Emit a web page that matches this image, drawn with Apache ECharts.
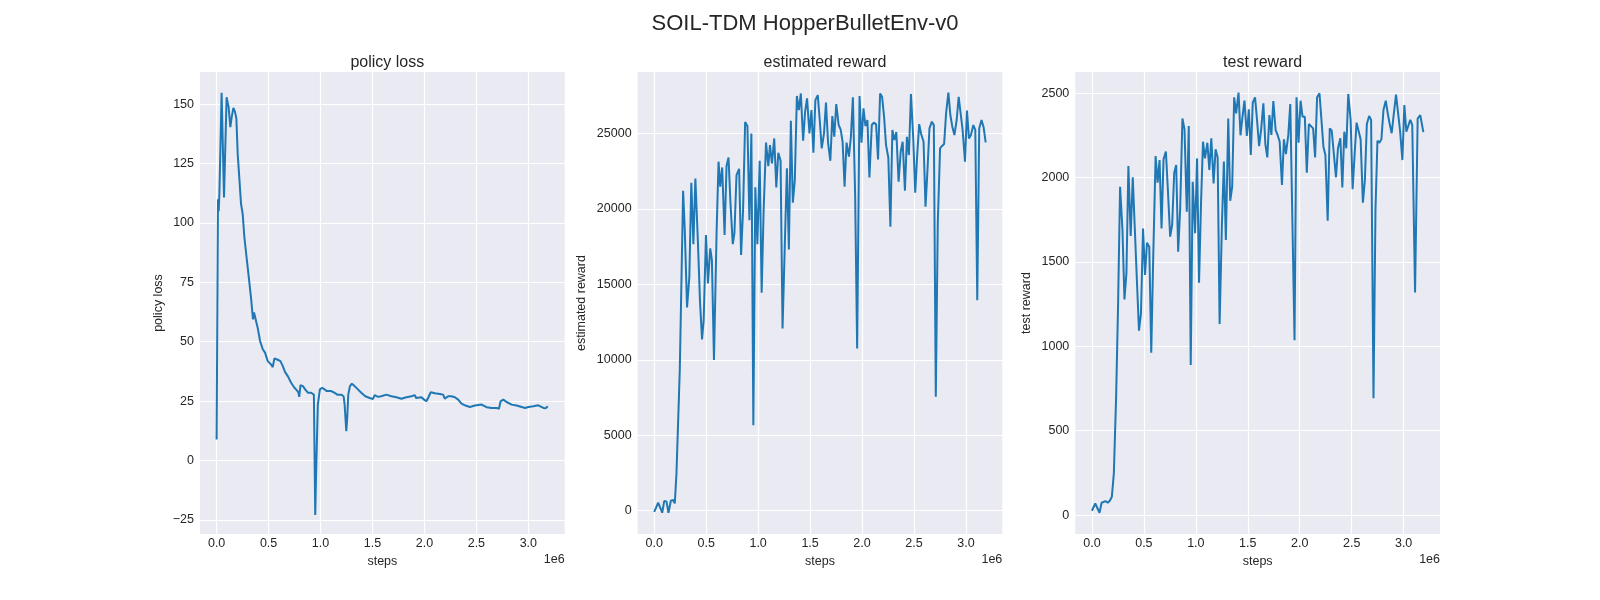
<!DOCTYPE html>
<html>
	<head>
		<meta charset="utf-8">
		<title>SOIL-TDM HopperBulletEnv-v0</title>
		<script src="https://cdn.jsdelivr.net/npm/echarts@6.0.0/dist/echarts.min.js"></script>
		<style>
			html, body { margin: 0; padding: 0; background: #fff; }
		</style>
	</head>
	<body>
		<div id="main" style="width:1600px;height:600px;"></div>

		<script>
			// steps are in millions (axis shows the 1e6 offset)
			var policyLoss = [
				[0.0, 8.8], [0.008, 8.8], [0.013, 110], [0.02, 105], [0.027, 113], [0.048, 154.8],
				[0.071, 110.8], [0.096, 153], [0.115, 148.9], [0.132, 140.4], [0.145, 144.6],
				[0.161, 148.5], [0.177, 146.8], [0.19, 144], [0.203, 129], [0.235, 108],
				[0.251, 103.8], [0.267, 94], [0.299, 81.3], [0.331, 68.6], [0.35, 59.4],
				[0.36, 62.3], [0.373, 62.3], [0.395, 55.9], [0.418, 50.3], [0.444, 46.8],
				[0.466, 45.4], [0.492, 41.8], [0.524, 40.4], [0.54, 39.3], [0.556, 43],
				[0.588, 42.4], [0.614, 41.8], [0.637, 39.7], [0.659, 37.2], [0.685, 35.5],
				[0.717, 32.7], [0.749, 30.6], [0.775, 29.4], [0.788, 28.5], [0.795, 26.8],
				[0.807, 31.7], [0.83, 31.3], [0.852, 29.9], [0.878, 28.5], [0.91, 28.5],
				[0.936, 27.7], [0.949, -23], [0.958, -4.6], [0.974, 23.5], [0.994, 29.9],
				[1.016, 30.6], [1.039, 29.9], [1.061, 29.2], [1.08, 29.6], [1.103, 29.2],
				[1.135, 28.5], [1.161, 27.7], [1.199, 27.7], [1.222, 27], [1.232, 23.5],
				[1.248, 12.3], [1.257, 17.9], [1.267, 27.7], [1.283, 31.3], [1.302, 32.3],
				[1.328, 31.3], [1.36, 29.9], [1.392, 28.5], [1.431, 27], [1.473, 26.3],
				[1.505, 25.9], [1.521, 27.5], [1.553, 26.8], [1.585, 27], [1.633, 27.7],
				[1.682, 27], [1.73, 26.6], [1.778, 26], [1.826, 26.6], [1.875, 27],
				[1.907, 27.5], [1.92, 26.3], [1.939, 27], [1.971, 26.6], [1.997, 25.6],
				[2.019, 24.9], [2.035, 26.3], [2.061, 28.7], [2.1, 28.3], [2.148, 28],
				[2.18, 27.7], [2.196, 26], [2.228, 27], [2.26, 27], [2.293, 26.6],
				[2.325, 25.6], [2.357, 23.9], [2.395, 23.1], [2.437, 22.5], [2.486, 23.1],
				[2.55, 23.5], [2.598, 22.4], [2.646, 22.1], [2.695, 22.1], [2.717, 21.7],
				[2.733, 24.9], [2.759, 25.6], [2.791, 24.6], [2.839, 23.5], [2.887, 23.1],
				[2.936, 22.5], [2.968, 22.1], [3.0, 22.5], [3.048, 22.8], [3.096, 23.2],
				[3.145, 22.1], [3.167, 22], [3.187, 22.8]
			];

			var estimatedReward = [
				[0.0, -70], [0.013, 0], [0.038, 530], [0.057, 640], [0.077, -130], [0.096, 640],
				[0.118, 620], [0.137, -130], [0.16, 660], [0.182, 710], [0.198, 490], [0.214, 2470],
				[0.246, 9320], [0.278, 21200], [0.294, 18590], [0.316, 13470], [0.338, 15500],
				[0.357, 21730], [0.377, 17660], [0.396, 22010], [0.421, 17710], [0.44, 13950],
				[0.46, 11350], [0.476, 12630], [0.498, 18260], [0.517, 15060], [0.539, 17380],
				[0.555, 16600], [0.575, 9980], [0.6, 18370], [0.619, 23120], [0.635, 21460],
				[0.654, 22740], [0.677, 18260], [0.696, 22830], [0.715, 23400], [0.734, 20360],
				[0.756, 17660], [0.772, 18410], [0.792, 22230], [0.817, 22650], [0.836, 16940],
				[0.855, 19920], [0.875, 25750], [0.897, 25480], [0.916, 19250], [0.935, 24990],
				[0.954, 5670], [0.973, 21420], [0.993, 17660], [1.015, 23180], [1.034, 14440],
				[1.053, 19920], [1.076, 24380], [1.098, 22830], [1.114, 24220], [1.133, 23010],
				[1.155, 24660], [1.175, 21420], [1.194, 23710], [1.216, 23180], [1.235, 12080],
				[1.258, 17930], [1.277, 22680], [1.296, 17310], [1.315, 25830], [1.334, 20400],
				[1.353, 21900], [1.373, 27470], [1.392, 26540], [1.411, 27640], [1.433, 24510],
				[1.452, 26430], [1.471, 27310], [1.494, 24990], [1.513, 26540], [1.532, 23710],
				[1.551, 27200], [1.574, 27530], [1.593, 25880], [1.612, 24000], [1.634, 24990],
				[1.653, 27030], [1.673, 24380], [1.695, 23180], [1.714, 26140], [1.733, 24770],
				[1.752, 26940], [1.775, 25550], [1.794, 25260], [1.813, 24440], [1.832, 21460],
				[1.851, 24380], [1.874, 23450], [1.893, 24770], [1.912, 27380], [1.934, 20800],
				[1.953, 10750], [1.976, 27470], [1.995, 24380], [2.014, 26650], [2.033, 25480],
				[2.052, 25880], [2.071, 22080], [2.094, 25550], [2.113, 25700], [2.135, 25610],
				[2.154, 23270], [2.174, 27640], [2.193, 27420], [2.212, 26100], [2.231, 24220],
				[2.253, 23400], [2.273, 18810], [2.292, 25220], [2.311, 24550], [2.33, 25080],
				[2.352, 21790], [2.372, 23780], [2.391, 24440], [2.413, 21200], [2.432, 24770],
				[2.451, 23560], [2.471, 27600], [2.493, 24660], [2.512, 21060], [2.531, 23560],
				[2.55, 25610], [2.569, 24950], [2.592, 24440], [2.611, 20140], [2.63, 22570],
				[2.649, 25330], [2.672, 25770], [2.691, 25550], [2.71, 7550], [2.729, 19030],
				[2.751, 24000], [2.77, 24160], [2.79, 24290], [2.809, 26320], [2.831, 27690],
				[2.85, 26210], [2.869, 25440], [2.889, 24880], [2.911, 25880], [2.93, 27420],
				[2.949, 27310], [2.968, 25220], [2.991, 23120], [3.01, 26500], [3.029, 24660],
				[3.048, 24880], [3.071, 25550], [3.09, 25220], [3.109, 13950], [3.128, 25330],
				[3.15, 25880], [3.17, 25400], [3.19, 24400]
			];

			var testReward = [
				[0.0, 26], [0.013, 26], [0.032, 69], [0.051, 75], [0.073, 14], [0.093, 73],
				[0.112, 75], [0.131, 83], [0.153, 73], [0.172, 85], [0.192, 109], [0.211, 247],
				[0.233, 702], [0.252, 1255], [0.271, 1946], [0.294, 1690], [0.313, 1278],
				[0.332, 1433], [0.351, 2069], [0.373, 1654], [0.393, 2002], [0.412, 1709],
				[0.434, 1373], [0.453, 1093], [0.472, 1196], [0.492, 1699], [0.511, 1423],
				[0.53, 1614], [0.552, 1591], [0.571, 962], [0.59, 1531], [0.613, 2128],
				[0.632, 1970], [0.651, 2104], [0.67, 1699], [0.689, 2108], [0.712, 2154],
				[0.731, 1927], [0.753, 1650], [0.772, 1719], [0.792, 2029], [0.811, 2075],
				[0.83, 1561], [0.849, 1808], [0.871, 2351], [0.891, 2286], [0.913, 1798],
				[0.932, 2306], [0.951, 889], [0.97, 1976], [0.993, 1670], [1.012, 2114],
				[1.031, 1377], [1.05, 1848], [1.069, 2213], [1.088, 2114], [1.111, 2207],
				[1.13, 2045], [1.149, 2233], [1.171, 1966], [1.19, 2168], [1.21, 2120],
				[1.229, 1132], [1.251, 1719], [1.27, 2095], [1.289, 1630], [1.312, 2351],
				[1.331, 1863], [1.35, 1946], [1.369, 2476], [1.388, 2381], [1.411, 2504],
				[1.43, 2251], [1.449, 2361], [1.468, 2456], [1.491, 2247], [1.51, 2405],
				[1.529, 2134], [1.548, 2444], [1.57, 2476], [1.589, 2342], [1.609, 2187],
				[1.628, 2282], [1.65, 2440], [1.669, 2199], [1.688, 2120], [1.708, 2371],
				[1.727, 2253], [1.746, 2454], [1.768, 2282], [1.787, 2253], [1.807, 2213],
				[1.829, 1956], [1.848, 2227], [1.867, 2140], [1.89, 2253], [1.909, 2436],
				[1.928, 1792], [1.95, 1037], [1.969, 2476], [1.989, 2207], [2.008, 2456],
				[2.027, 2361], [2.049, 2361], [2.068, 2029], [2.088, 2318], [2.107, 2312],
				[2.129, 2292], [2.148, 2120], [2.167, 2476], [2.19, 2500], [2.209, 2342],
				[2.228, 2183], [2.247, 2134], [2.269, 1745], [2.289, 2292], [2.308, 2278],
				[2.327, 2282], [2.349, 2002], [2.368, 2174], [2.391, 2233], [2.41, 1942],
				[2.429, 2272], [2.448, 2174], [2.467, 2496], [2.49, 2342], [2.509, 1931],
				[2.528, 2134], [2.547, 2326], [2.566, 2278], [2.586, 2227], [2.608, 1852],
				[2.627, 1986], [2.646, 2318], [2.668, 2365], [2.687, 2342], [2.71, 692],
				[2.729, 1808], [2.748, 2219], [2.767, 2207], [2.786, 2227], [2.806, 2401],
				[2.828, 2456], [2.847, 2381], [2.866, 2318], [2.885, 2263], [2.904, 2371],
				[2.927, 2492], [2.94, 2500], [2.965, 2282], [2.988, 2104], [3.007, 2430],
				[3.026, 2272], [3.045, 2272], [3.064, 2342], [3.083, 2312], [3.11, 1320],
				[3.135, 2350], [3.16, 2370], [3.19, 2270]
			];

			var panelTitles = ['policy loss', 'estimated reward', 'test reward'];
			var xTicks = [0, 0.5, 1.0, 1.5, 2.0, 2.5, 3.0];
			var lossTicks = [-25, 0, 25, 50, 75, 100, 125, 150];
			var estTicks = [0, 5000, 10000, 15000, 20000, 25000];
			var testTicks = [0, 500, 1000, 1500, 2000, 2500];

			var seriesData = [policyLoss, estimatedReward, testReward];
			var yTicks = [lossTicks, estTicks, testTicks];
			var yRange = [[-31, 163.6], [-1540, 29060], [-112, 2626]];

			var FONT = '"Liberation Sans", Arial, sans-serif';
			var TXT = '#262626';
			var left = [200, 637.6, 1075.3];
			var W = 364.7, TOP = 72, H = 462;
			var yNameX = [159, 582, 1027];

			function fmtY(v) {
				return v < 0 ? '\u2212' + Math.abs(v) : String(v);
			}

			var myChart = echarts.init(document.getElementById('main'));

			var grids = [], xAxes = [], yAxes = [], series = [], titles = [], graphics = [];

			titles.push({
				text: 'SOIL-TDM HopperBulletEnv-v0',
				left: 800, top: 8, textAlign: 'center',
				textStyle: { fontFamily: FONT, fontSize: 22, fontWeight: 'normal', color: TXT }
			});

			for (var i = 0; i < 3; i++) {
				grids.push({
					left: left[i], top: TOP, width: W, height: H,
					show: true, backgroundColor: '#EAEAF2', borderWidth: 0
				});
				xAxes.push({
					type: 'value', gridIndex: i, min: -0.16, max: 3.35,
					name: 'steps', nameLocation: 'middle', nameGap: 20,
					nameTextStyle: { fontFamily: FONT, fontSize: 12.5, color: TXT },
					axisLine: { show: false },
					axisTick: { show: false, customValues: xTicks },
					axisLabel: {
						customValues: xTicks, margin: 3,
						fontFamily: FONT, fontSize: 12.5, color: TXT,
						formatter: function (v) { return v.toFixed(1); }
					},
					splitLine: { show: true, lineStyle: { color: '#fff', width: 1.2 } }
				});
				yAxes.push({
					type: 'value', gridIndex: i, min: yRange[i][0], max: yRange[i][1],
					axisLine: { show: false },
					axisTick: { show: false, customValues: yTicks[i] },
					axisLabel: {
						customValues: yTicks[i], margin: 6,
						fontFamily: FONT, fontSize: 12.5, color: TXT,
						formatter: fmtY
					},
					splitLine: { show: true, lineStyle: { color: '#fff', width: 1.2 } }
				});
				series.push({
					type: 'line', xAxisIndex: i, yAxisIndex: i,
					data: seriesData[i], showSymbol: false, symbol: 'none',
					lineStyle: { color: '#1f77b4', width: 2 },
					z: 3
				});
				titles.push({
					text: panelTitles[i],
					left: left[i] + W / 2, top: 50, textAlign: 'center',
					textStyle: { fontFamily: FONT, fontSize: 16, fontWeight: 'normal', color: TXT }
				});
				// y axis label
				graphics.push({
					type: 'text', x: yNameX[i], y: TOP + H / 2, rotation: Math.PI / 2,
					style: {
						text: panelTitles[i], align: 'center', verticalAlign: 'middle',
						font: '12.5px ' + FONT, fill: TXT
					}
				});
				// offset text
				graphics.push({
					type: 'text', x: left[i] + W, y: 559.5,
					style: {
						text: '1e6', align: 'right', verticalAlign: 'middle',
						font: '12.5px ' + FONT, fill: TXT
					}
				});
			}

			var option = {
				animation: false,
				backgroundColor: '#fff',
				title: titles,
				grid: grids,
				xAxis: xAxes,
				yAxis: yAxes,
				series: series,
				graphic: graphics
			};

			myChart.setOption(option);
		</script>
	</body>
</html>
